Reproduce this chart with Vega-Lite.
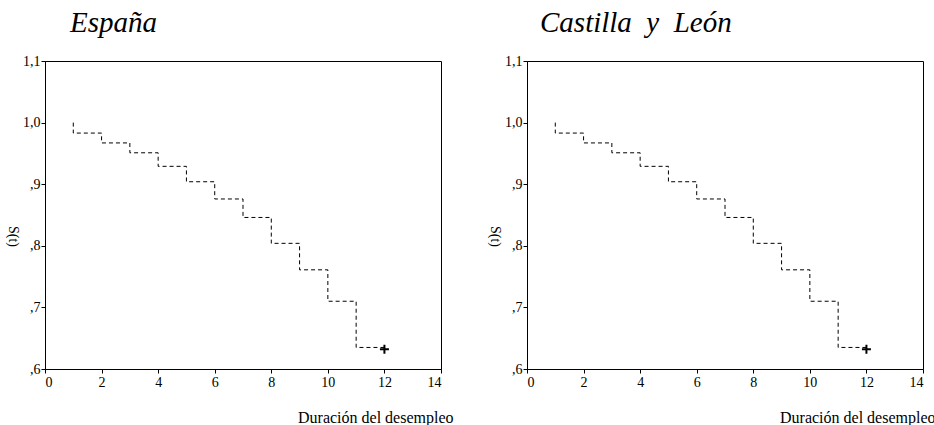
{
  "$schema": "https://vega.github.io/schema/vega-lite/v6.json",
  "padding": {"left": 4, "top": 8, "right": 0, "bottom": 0},
  "background": "white",
  "bounds": "flush",
  "spacing": 86,
  "config": {
    "font": "'Liberation Serif', 'Times New Roman', Times, serif",
    "view": {"stroke": "black", "strokeWidth": 1},
    "axis": {
      "domainColor": "black", "tickColor": "black", "labelColor": "black", "titleColor": "black",
      "labelFont": "'Liberation Serif', 'Times New Roman', Times, serif", "titleFont": "'Liberation Serif', 'Times New Roman', Times, serif",
      "labelFontSize": 14, "titleFontSize": 16, "titleFontWeight": "normal",
      "grid": false, "tickSize": 4, "domainWidth": 1, "tickWidth": 1
    },
    "title": {"font": "'Liberation Serif', 'Times New Roman', Times, serif", "fontSize": 29, "fontStyle": "italic", "fontWeight": "normal", "color": "black", "anchor": "start", "baseline": "alphabetic", "offset": 16, "frame": "group"}
  },
  "datasets": {
    "km_es": [
      {"seq": 0, "time": 1, "S": 1.0},
      {"seq": 1, "time": 1, "S": 0.983},
      {"seq": 2, "time": 2, "S": 0.967},
      {"seq": 3, "time": 3, "S": 0.951},
      {"seq": 4, "time": 4, "S": 0.929},
      {"seq": 5, "time": 5, "S": 0.904},
      {"seq": 6, "time": 6, "S": 0.876},
      {"seq": 7, "time": 7, "S": 0.846},
      {"seq": 8, "time": 8, "S": 0.804},
      {"seq": 9, "time": 9, "S": 0.761},
      {"seq": 10, "time": 10, "S": 0.710},
      {"seq": 11, "time": 11, "S": 0.635},
      {"seq": 12, "time": 12, "S": 0.635}
    ],
    "cens_es": [{"time": 12, "S": 0.632}],
    "km_cyl": [
      {"seq": 0, "time": 1, "S": 1.0},
      {"seq": 1, "time": 1, "S": 0.983},
      {"seq": 2, "time": 2, "S": 0.967},
      {"seq": 3, "time": 3, "S": 0.951},
      {"seq": 4, "time": 4, "S": 0.929},
      {"seq": 5, "time": 5, "S": 0.904},
      {"seq": 6, "time": 6, "S": 0.876},
      {"seq": 7, "time": 7, "S": 0.846},
      {"seq": 8, "time": 8, "S": 0.804},
      {"seq": 9, "time": 9, "S": 0.761},
      {"seq": 10, "time": 10, "S": 0.710},
      {"seq": 11, "time": 11, "S": 0.635},
      {"seq": 12, "time": 12, "S": 0.635}
    ],
    "cens_cyl": [{"time": 12, "S": 0.632}]
  },
  "hconcat": [
    {
      "title": {"text": "España", "dx": 25},
      "width": 396, "height": 308,
      "layer": [
        {
          "data": {"name": "km_es"},
          "mark": {"type": "line", "interpolate": "step-after", "strokeDash": [4, 3], "strokeWidth": 1, "color": "black"},
          "encoding": {
            "x": {"field": "time", "type": "quantitative", "scale": {"domain": [0, 14], "nice": false},
              "axis": {"values": [0, 2, 4, 6, 8, 10, 12, 14], "labelFont": "Liberation Serif", "labelFontSize": 14, "title": "Duración del desempleo", "titleX": 408, "titleY": 53, "titleAlign": "right", "titleBaseline": "alphabetic", "labelPadding": 2}},
            "y": {"field": "S", "type": "quantitative", "scale": {"domain": [0.6, 1.1], "zero": false, "nice": false},
              "axis": {"values": [0.6, 0.7, 0.8, 0.9, 1.0, 1.1], "labelFont": "Liberation Serif", "labelFontSize": 14, "labelExpr": "datum.value < 0.99 ? ',' + format(datum.value * 10, '.0f') : replace(format(datum.value, '.1f'), '.', ',')", "title": "S(t)", "titleFontSize": 14, "titleAngle": 90, "titleX": -33, "titleY": 175, "titleAlign": "center", "titleBaseline": "middle", "labelPadding": 1}},
            "order": {"field": "seq", "type": "quantitative"}
          }
        },
        {
          "data": {"name": "cens_es"},
          "mark": {"type": "point", "shape": "M-1,0H1M0,-1V1", "size": 81, "strokeWidth": 2, "filled": false, "color": "black", "opacity": 1},
          "encoding": {
            "x": {"field": "time", "type": "quantitative"},
            "y": {"field": "S", "type": "quantitative"}
          }
        }
      ]
    },
    {
      "title": {"text": "Castilla \u00a0y \u00a0León", "dx": 13},
      "width": 396, "height": 308,
      "layer": [
        {
          "data": {"name": "km_cyl"},
          "mark": {"type": "line", "interpolate": "step-after", "strokeDash": [4, 3], "strokeWidth": 1, "color": "black"},
          "encoding": {
            "x": {"field": "time", "type": "quantitative", "scale": {"domain": [0, 14], "nice": false},
              "axis": {"values": [0, 2, 4, 6, 8, 10, 12, 14], "labelFont": "Liberation Serif", "labelFontSize": 14, "title": "Duración del desempleo", "titleX": 408, "titleY": 53, "titleAlign": "right", "titleBaseline": "alphabetic", "labelPadding": 2}},
            "y": {"field": "S", "type": "quantitative", "scale": {"domain": [0.6, 1.1], "zero": false, "nice": false},
              "axis": {"values": [0.6, 0.7, 0.8, 0.9, 1.0, 1.1], "labelFont": "Liberation Serif", "labelFontSize": 14, "labelExpr": "datum.value < 0.99 ? ',' + format(datum.value * 10, '.0f') : replace(format(datum.value, '.1f'), '.', ',')", "title": "S(t)", "titleFontSize": 14, "titleAngle": 90, "titleX": -33, "titleY": 175, "titleAlign": "center", "titleBaseline": "middle", "labelPadding": 1}},
            "order": {"field": "seq", "type": "quantitative"}
          }
        },
        {
          "data": {"name": "cens_cyl"},
          "mark": {"type": "point", "shape": "M-1,0H1M0,-1V1", "size": 81, "strokeWidth": 2, "filled": false, "color": "black", "opacity": 1},
          "encoding": {
            "x": {"field": "time", "type": "quantitative"},
            "y": {"field": "S", "type": "quantitative"}
          }
        }
      ]
    }
  ]
}
